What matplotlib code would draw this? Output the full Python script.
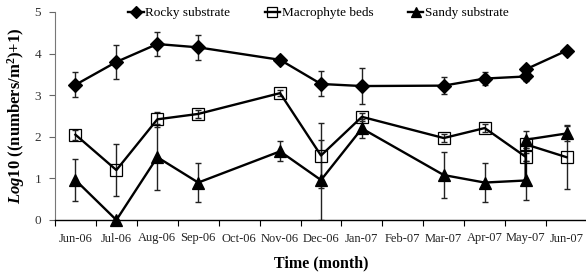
import numpy as np
import matplotlib.pyplot as plt
from matplotlib.ticker import FixedLocator, NullFormatter

plt.rcParams['font.family'] = ['Liberation Serif', 'DejaVu Serif']
plt.rcParams['mathtext.fontset'] = 'custom'
plt.rcParams['mathtext.rm'] = 'Liberation Serif'
plt.rcParams['mathtext.bf'] = 'Liberation Serif:bold'
plt.rcParams['mathtext.it'] = 'Liberation Serif:italic'
plt.rcParams['mathtext.bfit'] = 'Liberation Serif:italic:bold'

months = ['Jun-06', 'Jul-06', 'Aug-06', 'Sep-06', 'Oct-06', 'Nov-06', 'Dec-06',
          'Jan-07', 'Feb-07', 'Mar-07', 'Apr-07', 'May-07', 'Jun-07']

# sampling months (index into months); May-07 was sampled twice
sample_idx = [0, 1, 2, 3, 5, 6, 7, 9, 10, 11, 11, 12]

rocky = [3.25, 3.80, 4.23, 4.15, 3.85, 3.27, 3.22, 3.23, 3.40, 3.45, 3.62, 4.07]
rocky_err = [0.30, 0.40, 0.28, 0.30, 0.05, 0.30, 0.43, 0.20, 0.15, 0.12, 0.05, 0.03]

macro = [2.05, 1.20, 2.42, 2.55, 3.05, 1.55, 2.48, 1.97, 2.21, 1.52, 1.82, 1.51]
macro_err = [0.12, 0.62, 0.18, 0.10, 0.08, 0.78, 0.10, 0.10, 0.10, 0.10, 0.10, 0.77]

sandy = [0.96, 0.00, 1.51, 0.90, 1.65, 0.96, 2.20, 1.08, 0.90, 0.95, 1.93, 2.08]
sandy_err = [0.50, 0.00, 0.80, 0.46, 0.24, 0.96, 0.23, 0.56, 0.46, 0.48, 0.20, 0.18]

fig = plt.figure(figsize=(5.86, 2.74), dpi=100)
ax = fig.add_axes([55 / 586, 1 - 220 / 274, 532 / 586, 208 / 274])

x = np.array(sample_idx)
series = [
    (rocky, rocky_err, 'D', 'black', 'Rocky substrate', 7),
    (macro, macro_err, 's', 'none', 'Macrophyte beds', 8.5),
    (sandy, sandy_err, '^', 'black', 'Sandy substrate', 8.5),
]
for vals, err, mk, fc, lab, ms in series:
    ax.errorbar(x, vals, yerr=err, fmt='none', ecolor='#222222', elinewidth=1,
                capsize=2, capthick=1, zorder=2)
    ax.plot(x, vals, '-', color='black', lw=1.7, marker=mk, ms=ms,
            mfc=fc, mec='black', mew=0.9, label=lab, clip_on=False, zorder=3)

ax.set_xlim(-0.5, len(months) - 0.5)
ax.set_ylim(0, 5)
ax.set_yticks(range(6))

ax.xaxis.set_major_locator(FixedLocator(np.arange(-0.5, len(months), 1.0)))
ax.xaxis.set_major_formatter(NullFormatter())
ax.xaxis.set_minor_locator(FixedLocator(np.arange(len(months))))
ax.set_xticklabels(months, minor=True)
ax.tick_params(axis='x', which='major', direction='out', length=4, width=0.8)
ax.tick_params(axis='x', which='minor', length=0, pad=9, labelsize=9,
               labelcolor='#222222')
ax.tick_params(axis='y', direction='out', length=4, width=0.8, pad=6,
               labelsize=9.5, labelcolor='#333333', color='#666666')

for s in ['top', 'right']:
    ax.spines[s].set_visible(False)
ax.spines['left'].set_color('#777777')
ax.spines['bottom'].set_color('black')
ax.spines['bottom'].set_linewidth(1.0)

ax.set_xlabel('Time (month)', fontsize=11.5, fontweight='bold', labelpad=8)
ax.set_ylabel(r'$\mathbfit{Log}\mathbf{10}$ ((numbers/m$^{\mathbf{2}}$)+1)',
              fontsize=12, fontweight='bold', labelpad=5)

ax.legend(loc='center', bbox_to_anchor=(0.495, 0.995), ncol=3, frameon=False,
          fontsize=9.5, handlelength=1.2, handletextpad=0.1, columnspacing=2.6,
          markerscale=0.85, borderaxespad=0)

fig.savefig('out.png', dpi=100)
